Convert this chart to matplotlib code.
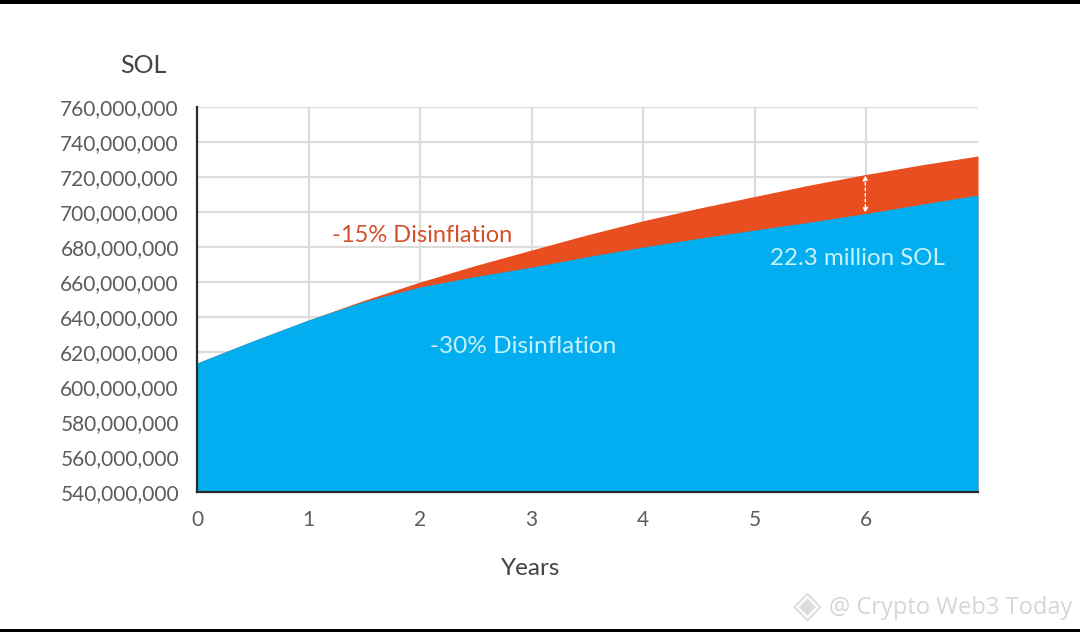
import matplotlib
matplotlib.use('Agg')
import matplotlib.pyplot as plt
from matplotlib.patches import Rectangle

# values, in SOL
years = [0, 0.5, 1, 1.5, 2, 2.5, 3, 3.5, 4, 4.5, 5, 5.5, 6, 6.5, 7]
disinflation_15 = [613.7e6, 626.3e6, 638.3e6, 649.6e6, 660e6, 669.5e6, 678.3e6, 687e6, 695e6, 702.2e6, 708.9e6, 715.5e6, 721.5e6, 727e6, 732e6]
disinflation_30 = [613.7e6, 626.3e6, 638.3e6, 648.9e6, 657.2e6, 663.2e6, 668.5e6, 674.5e6, 680e6, 685e6, 689.7e6, 694.3e6, 699.2e6, 704.5e6, 709.7e6]

y_ticks = list(range(540000000, 760000001, 20000000))
x_ticks = [0, 1, 2, 3, 4, 5, 6]

plt.rcParams['font.family'] = ['Lato', 'DejaVu Sans']

BLUE = '#02aeef'
ORANGE = '#e84e1f'
GREY = '#5c5c5c'
GRID = '#dcdcdc'

fig = plt.figure(figsize=(10.8, 6.32), dpi=100)
ax = fig.add_axes([197 / 1080, 1 - 492 / 632, (978 - 197) / 1080, 385 / 632])

ax.fill_between(years, 540000000, disinflation_15, color=ORANGE, lw=0, zorder=2)
ax.fill_between(years, 540000000, disinflation_30, color=BLUE, lw=0, zorder=3)

ax.set_xlim(0, 7)
ax.set_ylim(540000000, 760000000)
ax.set_xticks(x_ticks)
ax.set_yticks(y_ticks)
ax.set_yticklabels([f'{v:,}' for v in y_ticks])
ax.grid(True, color=GRID, lw=1.6, zorder=0)
ax.set_axisbelow(True)
ax.tick_params(length=0, labelsize=15, labelcolor=GREY)
ax.tick_params(axis='x', pad=13)
ax.tick_params(axis='y', pad=13)

for side in ['top', 'right']:
    ax.spines[side].set_visible(False)
for side in ['left', 'bottom']:
    ax.spines[side].set_color('#2b2b2b')
    ax.spines[side].set_linewidth(1.6)
    ax.spines[side].set_zorder(5)

ax.text(-0.48, 783600000, 'SOL', fontsize=18, color='#444444', ha='center', va='center')
ax.text(2.99, 496500000, 'Years', fontsize=17.5, color='#444444', ha='center', va='center')

ax.text(1.21, 686600000, '-15% Disinflation', fontsize=17, color='#d4502a', va='center', zorder=6)
ax.text(2.09, 623000000, '-30% Disinflation', fontsize=17.6, color='#c8f2fb', va='center', zorder=6)
ax.text(5.14, 673500000, '22.3 million SOL', fontsize=17.4, color='#c8f2fb', va='center', zorder=6)

# white double arrow between the two curves at year 6
ax.annotate('', xy=(5.99, 699500000), xytext=(5.99, 721000000), zorder=7,
            arrowprops=dict(arrowstyle='<|-|>', color='white', lw=1, ls=(0, (2, 2)),
                            mutation_scale=7, shrinkA=0, shrinkB=0))

# watermark
fig.text(1072 / 1080, 1 - 608 / 632, '@ Crypto Web3 Today', fontsize=17, color='#d6d6d6',
         ha='right', va='center', family=['Open Sans', 'DejaVu Sans'])
fig.text(807 / 1080, 1 - 607 / 632, '◈', fontsize=27, color='#dddddd',
         ha='center', va='center', family='DejaVu Sans')

# black bars from the screenshot
fig.add_artist(Rectangle((0, 1 - 4 / 632), 1, 4 / 632, transform=fig.transFigure, color='black', lw=0))
fig.add_artist(Rectangle((0, 0), 1, 3 / 632, transform=fig.transFigure, color='black', lw=0))

fig.savefig('out.png', dpi=100)
